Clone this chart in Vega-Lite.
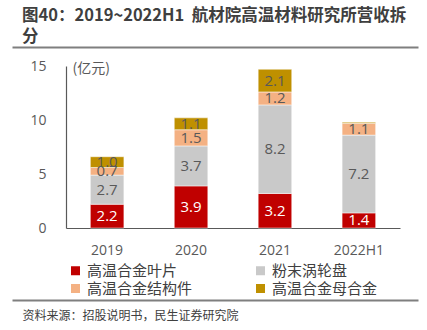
{
  "$schema": "https://vega.github.io/schema/vega-lite/v6.json",
  "width": 334,
  "height": 162,
  "autosize": {"type": "none"},
  "padding": {"left": 66, "top": 66, "right": 27, "bottom": 102},
  "background": "white",
  "title": {
    "text": ["图40：2019~2022H1\u00a0\u00a0航材院高温材料研究所营收拆", "分"],
    "anchor": "start",
    "frame": "group",
    "dx": -44,
    "dy": 5,
    "offset": 0,
    "font": "Noto Sans CJK SC",
    "fontSize": 16.5,
    "fontWeight": "bold",
    "color": "#3f3f3f",
    "lineHeight": 21
  },
  "data": {
    "values": [
      {"year": "2019", "cat": "高温合金叶片", "v": 2.2, "o": 1},
      {"year": "2019", "cat": "粉末涡轮盘", "v": 2.7, "o": 2},
      {"year": "2019", "cat": "高温合金结构件", "v": 0.7, "o": 3},
      {"year": "2019", "cat": "高温合金母合金", "v": 1.0, "o": 4},
      {"year": "2020", "cat": "高温合金叶片", "v": 3.9, "o": 1},
      {"year": "2020", "cat": "粉末涡轮盘", "v": 3.7, "o": 2},
      {"year": "2020", "cat": "高温合金结构件", "v": 1.5, "o": 3},
      {"year": "2020", "cat": "高温合金母合金", "v": 1.1, "o": 4},
      {"year": "2021", "cat": "高温合金叶片", "v": 3.2, "o": 1},
      {"year": "2021", "cat": "粉末涡轮盘", "v": 8.2, "o": 2},
      {"year": "2021", "cat": "高温合金结构件", "v": 1.2, "o": 3},
      {"year": "2021", "cat": "高温合金母合金", "v": 2.1, "o": 4},
      {"year": "2022H1", "cat": "高温合金叶片", "v": 1.4, "o": 1},
      {"year": "2022H1", "cat": "粉末涡轮盘", "v": 7.2, "o": 2},
      {"year": "2022H1", "cat": "高温合金结构件", "v": 1.1, "o": 3},
      {"year": "2022H1", "cat": "高温合金母合金", "v": 0.1, "o": 4}
    ]
  },
  "resolve": {"scale": {"y": "independent"}, "axis": {"y": "independent"}},
  "layer": [
    {
      "mark": {"type": "bar", "stroke": "white", "strokeWidth": 0.5},
      "encoding": {
        "x": {
          "field": "year", "type": "nominal", "sort": null,
          "scale": {"paddingInner": 0.6, "paddingOuter": 0.29},
          "axis": {
            "title": "资料来源：招股说明书，民生证券研究院",
            "titleX": -44, "titleY": 87, "titleAlign": "left", "titleAnchor": "start",
            "titleBaseline": "middle",
            "titleFont": "Noto Sans CJK SC", "titleFontSize": 12, "titleFontWeight": "normal",
            "titleColor": "#404040",
            "labelAngle": 0, "labelFont": "Open Sans", "labelFontSize": 14,
            "labelColor": "#595959", "labelPadding": 15,
            "ticks": false, "domainColor": "#595959", "domainWidth": 1.2
          }
        },
        "y": {
          "field": "v", "type": "quantitative", "aggregate": "sum", "stack": "zero",
          "scale": {"domain": [0, 15]},
          "axis": {
            "orient": "left",
            "values": [0, 5, 10, 15], "grid": false, "ticks": false,
            "domainColor": "#595959", "domainWidth": 1.2,
            "labelFont": "Open Sans", "labelFontSize": 14, "labelColor": "#595959",
            "labelPadding": 20,
            "title": "(亿元)", "titleAngle": 0, "titleAlign": "left", "titleBaseline": "middle",
            "titleX": 6, "titleY": 2, "titleFont": "Noto Sans CJK SC", "titleFontSize": 14,
            "titleFontWeight": "normal", "titleColor": "#595959"
          }
        },
        "color": {
          "field": "cat", "type": "nominal",
          "scale": {
            "domain": ["高温合金叶片", "粉末涡轮盘", "高温合金结构件", "高温合金母合金"],
            "range": ["#C00000", "#C9C9C9", "#F4B183", "#BF9000"]
          },
          "legend": {
            "orient": "none", "legendX": 2, "legendY": 197,
            "title": null, "columns": 2, "direction": "horizontal",
            "symbolType": "square", "symbolSize": 81, "symbolStrokeWidth": 0,
            "labelFont": "Noto Sans CJK SC", "labelFontSize": 15, "labelColor": "#404040",
            "labelOffset": 4, "columnPadding": 60, "rowPadding": 2
          }
        },
        "order": {"field": "o", "type": "quantitative"}
      }
    },
    {
      "transform": [
        {"stack": "v", "groupby": ["year"], "sort": [{"field": "o", "order": "ascending"}], "as": ["v0", "v1"]},
        {"calculate": "(datum.v0 + datum.v1) / 2", "as": "mid"},
        {"filter": "datum.v >= 0.5"}
      ],
      "mark": {"type": "text", "font": "Open Sans", "fontSize": 15, "baseline": "middle"},
      "encoding": {
        "x": {"field": "year", "type": "nominal", "sort": null},
        "y": {"field": "mid", "type": "quantitative", "scale": {"domain": [0, 15]}, "axis": null},
        "text": {"field": "v", "type": "quantitative", "format": ".1f"},
        "color": {
          "condition": {"test": "datum.cat === '高温合金叶片'", "value": "white"},
          "value": "#595959"
        }
      }
    },
    {
      "transform": [{"filter": "datum.o === 1"}],
      "mark": {"type": "text", "opacity": 0},
      "encoding": {
        "x": {"field": "year", "type": "nominal", "sort": null},
        "y": {
          "field": "o", "type": "quantitative",
          "scale": {"domain": [0, 1], "range": [234, -19.5]},
          "axis": {
            "orient": "right", "offset": -388, "values": [0, 1],
            "tickSize": 406, "tickWidth": 2, "tickColor": "#7f7f7f",
            "labels": false, "domain": false, "grid": false, "title": null
          }
        },
        "text": {"value": ""}
      }
    }
  ],
  "config": {"view": {"stroke": null}}
}
